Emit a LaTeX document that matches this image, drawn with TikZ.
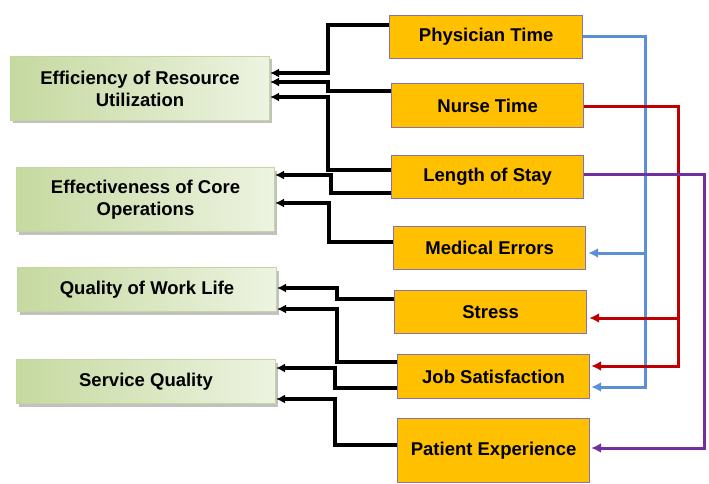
\documentclass[tikz,border=0pt]{standalone}
\usepackage{fontspec}
\setmainfont{Liberation Sans}
\usetikzlibrary{arrows.meta,shadows}
\definecolor{orng}{HTML}{FFC000}
\definecolor{obrd}{HTML}{8C6FB0}
\definecolor{gL}{HTML}{C6D9A0}
\definecolor{gR}{HTML}{EDF3E1}
\definecolor{gB}{HTML}{C3D69B}
\definecolor{bl}{HTML}{5B8FD8}
\definecolor{rd}{HTML}{C00000}
\definecolor{pu}{HTML}{7030A0}
\tikzset{
  factor/.style={draw=obrd, line width=1.2pt, fill=orng, anchor=north west, inner sep=0pt,
    font=\fontsize{18.5}{22}\selectfont\bfseries, align=center},
  outcome/.style={draw=gB, line width=1pt, left color=gL, right color=gR, anchor=north west, inner sep=0pt,
    font=\fontsize{18.5}{22}\selectfont\bfseries, align=center,
    drop shadow={shadow xshift=2pt, shadow yshift=-3pt, fill=black!30, opacity=0.8}},
  blk/.style={color=black, line width=3.1pt, -{Latex[length=9pt,width=9pt]}},
  clr/.style={line width=3pt, -{Latex[length=10pt,width=10pt]}},
}
\begin{document}
\begin{tikzpicture}[x=1pt,y=-1pt]
\useasboundingbox (0,0) rectangle (709,484);
% outcome boxes
\node[outcome, minimum width=259pt, minimum height=64pt] (eff) at (10,56) {Efficiency of Resource\\Utilization};
\node[outcome, minimum width=258pt, minimum height=64pt] (eco) at (16,167) {Effectiveness of Core\\Operations};
\node[outcome, minimum width=259pt, minimum height=44pt] (qwl) at (17,267) {Quality of Work Life};
\node[outcome, minimum width=259pt, minimum height=44pt] (sq) at (16,359) {Service Quality};
% factor boxes
\node[factor, minimum width=193pt, minimum height=43pt] (pt) at (389,15) {Physician Time};
\node[factor, minimum width=192pt, minimum height=44pt] (nt) at (391,83) {Nurse Time};
\node[factor, minimum width=192pt, minimum height=43pt] (los) at (391,155) {Length of Stay};
\node[factor, minimum width=192pt, minimum height=43pt] (me) at (393,226) {Medical Errors};
\node[factor, minimum width=192pt, minimum height=43pt] (st) at (394,290) {Stress};
\node[factor, minimum width=192pt, minimum height=44pt] (js) at (397,354) {Job Satisfaction};
\node[factor, minimum width=192pt, minimum height=64pt] (pe) at (397,418) {Patient Experience};
% black connectors
\draw[blk] (pt.west |- 0,25) -- (328,25) -- (328,73) -- (eff.east |- 0,73);
\draw[blk] (nt.west |- 0,91) -- (328,91) -- (328,82) -- (eff.east |- 0,82);
\draw[blk] (los.west |- 0,170) -- (328,170) -- (328,97) -- (eff.east |- 0,97);
\draw[blk] (los.west |- 0,193) -- (331,193) -- (331,175) -- (eco.east |- 0,175);
\draw[blk] (me.west |- 0,242) -- (329,242) -- (329,203) -- (eco.east |- 0,203);
\draw[blk] (st.west |- 0,299) -- (337,299) -- (337,288) -- (qwl.east |- 0,288);
\draw[blk] (js.west |- 0,362) -- (337,362) -- (337,309) -- (qwl.east |- 0,309);
\draw[blk] (js.west |- 0,388) -- (335,388) -- (335,368) -- (sq.east |- 0,368);
\draw[blk] (pe.west |- 0,445) -- (335,445) -- (335,399) -- (sq.east |- 0,399);
% coloured connectors
\coordinate (bj) at (645,253);
\coordinate (rj) at (678,318);
\draw[clr, color=bl] (pt.east |- 0,37) -- (645,37) -- (645,387) -- ([xshift=1pt]js.east |- 0,387);
\draw[clr, color=bl] (bj) -- ([xshift=2pt]me.east |- bj);
\draw[clr, color=rd] (nt.east |- 0,107) -- (678,107) -- (678,366) -- ([xshift=1pt]js.east |- 0,366);
\draw[clr, color=rd] (rj) -- ([xshift=2pt]st.east |- rj);
\draw[clr, color=pu] (los.east |- 0,174) -- (704,174) -- (704,448) -- ([xshift=1pt]pe.east |- 0,448);
\end{tikzpicture}
\end{document}
